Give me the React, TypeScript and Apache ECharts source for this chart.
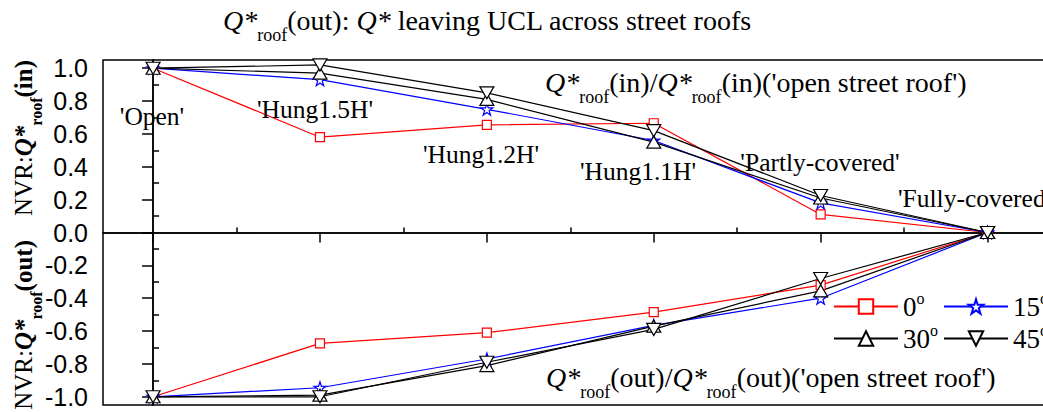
import React, { useEffect, useRef } from 'react';
import * as echarts from 'echarts';

const categories = ['Open', 'Hung1.5H', 'Hung1.2H', 'Hung1.1H', 'Partly-covered', 'Fully-covered'];
const angleNames = ['0°', '15°', '30°', '45°'];

const in0 = [1.0, 0.58, 0.655, 0.665, 0.11, 0.0];
const in15 = [1.0, 0.93, 0.75, 0.56, 0.18, 0.0];
const in30 = [1.0, 0.97, 0.81, 0.55, 0.21, 0.0];
const in45 = [1.0, 1.02, 0.85, 0.62, 0.225, 0.0];

const out0 = [-1.0, -0.675, -0.61, -0.485, -0.32, 0.0];
const out15 = [-1.0, -0.945, -0.77, -0.565, -0.4, 0.0];
const out30 = [-1.0, -0.99, -0.81, -0.57, -0.355, 0.0];
const out45 = [-1.0, -1.0, -0.79, -0.59, -0.28, 0.0];

const yTickValues = [-1.0, -0.8, -0.6, -0.4, -0.2, 0.0, 0.2, 0.4, 0.6, 0.8, 1.0];
const yMinorValues = [-0.9, -0.7, -0.5, -0.3, -0.1, 0.1, 0.3, 0.5, 0.7, 0.9];
const xMajorTicks = [0, 1, 2, 3, 4, 5];
const xMinorTicks = [0.5, 1.5, 2.5, 3.5, 4.5];

const SERIF = "'Liberation Serif','Times New Roman',serif";
const SANS = "'Liberation Sans',Arial,sans-serif";
const STAR = 'path://M50,2 L61,36 L97,36 L68,57 L79,92 L50,71 L21,92 L32,57 L3,36 L39,36 Z';

const markerStyles = [
  { color: '#ff0000', symbol: 'rect', size: 9, rotate: 0 },
  { color: '#0000ff', symbol: STAR, size: 12, rotate: 0 },
  { color: '#000000', symbol: 'triangle', size: [14, 12], rotate: 0 },
  { color: '#000000', symbol: 'triangle', size: [14, 12], rotate: 180 },
];

function subRich(F: number, f: number, d: number, bold: boolean) {
  const p = Math.round(2 * (d + 0.34 * (F - f)));
  const w = bold ? 'bold' : 'normal';
  return {
    n: { fontSize: F, fontFamily: SERIF, lineHeight: F + 2, color: '#000' },
    b: { fontSize: F, fontFamily: SERIF, lineHeight: F + 2, color: '#000', fontWeight: w },
    i: { fontSize: F, fontFamily: SERIF, lineHeight: F + 2, color: '#000', fontStyle: 'italic', fontWeight: w },
    s: { fontSize: f, fontFamily: SERIF, lineHeight: f, color: '#000', fontWeight: w, padding: [p, 0, 0, 0] },
  };
}

function buildOption() {
  const inSets = [in0, in15, in30, in45];
  const outSets = [out0, out15, out30, out45];
  const series: any[] = [];
  [inSets, outSets].forEach((sets) => {
    sets.forEach((vals, k) => {
      const m = markerStyles[k];
      series.push({
        type: 'line',
        name: angleNames[k],
        data: vals.map((v, i) => [i, v]),
        symbol: m.symbol,
        symbolSize: m.size,
        symbolRotate: m.rotate,
        showAllSymbol: true,
        lineStyle: { color: m.color, width: 1.2 },
        itemStyle: { color: '#ffffff', borderColor: m.color, borderWidth: 1.2 },
        z: 3,
      });
    });
  });

  const legendPos = [
    { left: 833, top: 290 },
    { left: 943, top: 290 },
    { left: 833, top: 322 },
    { left: 943, top: 322 },
  ];
  const legends = angleNames.map((nm, k) => ({
    data: [nm],
    left: legendPos[k].left,
    top: legendPos[k].top,
    padding: 0,
    itemWidth: 64,
    itemHeight: 18,
    selectedMode: false,
    formatter: (name: string) => `{n|${name.replace('°', '')}}{o|o}`,
    textStyle: {
      rich: {
        n: { fontSize: 27, fontFamily: SERIF, color: '#000', lineHeight: 29 },
        o: { fontSize: 16, fontFamily: SERIF, color: '#000', lineHeight: 16, padding: [0, 0, 17, 0] },
      },
    },
  }));

  const titleRich = subRich(28, 18, 11, false);
  const yRich = subRich(25, 16, 10, true);
  const annFont = `25.5px ${SERIF}`;

  const catLabels = [
    { x: 152, y: 116, align: 'center' },
    { x: 315, y: 109, align: 'center' },
    { x: 481, y: 154, align: 'center' },
    { x: 638, y: 171, align: 'center' },
    { x: 820, y: 162, align: 'center' },
    { x: 898, y: 198, align: 'left' },
  ];

  const graphics: any[] = [
    {
      type: 'text', x: 223, y: 20, z: 10,
      style: {
        text: '{i|Q*}{s|roof}{n|(out): }{i|Q*}{n| leaving UCL across street roofs}',
        rich: titleRich, textAlign: 'left', textVerticalAlign: 'middle',
      },
    },
    {
      type: 'text', x: 545, y: 82, z: 10,
      style: {
        text: "{i|Q*}{s|roof}{n|(in)/}{i|Q*}{s|roof}{n|(in)('open street roof')}",
        rich: titleRich, textAlign: 'left', textVerticalAlign: 'middle',
      },
    },
    {
      type: 'text', x: 546, y: 377, z: 10,
      style: {
        text: "{i|Q*}{s|roof}{n|(out)/}{i|Q*}{s|roof}{n|(out)('open street roof')}",
        rich: titleRich, textAlign: 'left', textVerticalAlign: 'middle',
      },
    },
    {
      type: 'text', x: 23, y: 60, rotation: Math.PI / 2, z: 10,
      style: {
        text: '{n|NVR:}{i|Q*}{s|roof}{b|(in)}',
        rich: yRich, textAlign: 'right', textVerticalAlign: 'middle',
      },
    },
    {
      type: 'text', x: 23, y: 240, rotation: Math.PI / 2, z: 10,
      style: {
        text: '{n|NVR:}{i|Q*}{s|roof}{b|(out)}',
        rich: yRich, textAlign: 'right', textVerticalAlign: 'middle',
      },
    },
  ];
  categories.forEach((c, i) => {
    graphics.push({
      type: 'text', x: catLabels[i].x, y: catLabels[i].y, z: 10,
      style: {
        text: `'${c}'`, font: annFont, fill: '#000',
        textAlign: catLabels[i].align, textVerticalAlign: 'middle',
      },
    });
  });

  const baseX = {
    type: 'value', min: -0.3, max: 5.5, gridIndex: 0,
    axisLabel: { show: false },
    splitLine: { show: false },
  };
  const baseY = {
    type: 'value', min: -1.05, max: 1.05, gridIndex: 0,
    splitLine: { show: false },
  };

  return {
    animation: false,
    backgroundColor: '#ffffff',
    grid: {
      left: 103, top: 60, width: 968, height: 345,
      outerBoundsMode: 'none',
      containLabel: false,
      show: true, borderColor: '#000', borderWidth: 1.5, backgroundColor: 'transparent',
    },
    xAxis: [
      {
        ...baseX,
        axisLine: { show: true, onZero: true, lineStyle: { color: '#000', width: 1.5 } },
        axisTick: { show: true, customValues: xMajorTicks, length: 10, lineStyle: { color: '#000', width: 1.5 } },
      },
      {
        ...baseX,
        axisLine: { show: true, onZero: true, lineStyle: { color: '#000', width: 1.5 } },
        axisTick: { show: true, customValues: xMinorTicks, length: 5, lineStyle: { color: '#000', width: 1.5 } },
      },
    ],
    yAxis: [
      {
        ...baseY,
        axisLine: { show: true, lineStyle: { color: '#000', width: 1.5 } },
        axisTick: { show: true, customValues: yTickValues, length: 11, lineStyle: { color: '#000', width: 1.5 } },
        axisLabel: {
          show: true, customValues: yTickValues, margin: 15,
          formatter: (v: number) => (Math.abs(v) < 1e-9 ? '0.0' : v.toFixed(1)),
          fontSize: 25, fontFamily: SANS, color: '#000',
        },
      },
      {
        ...baseY,
        axisLine: { show: true, lineStyle: { color: '#000', width: 1.5 } },
        axisTick: { show: true, customValues: yMinorValues, length: 6, lineStyle: { color: '#000', width: 1.5 } },
        axisLabel: { show: false },
      },
    ],
    legend: legends,
    series,
    graphic: { elements: graphics },
  };
}

export default function App() {
  const ref = useRef<HTMLDivElement>(null);
  useEffect(() => {
    document.body.style.margin = '0';
    if (!ref.current) return;
    const chart = echarts.init(ref.current, undefined, { renderer: 'svg' });
    chart.setOption(buildOption() as any);
    return () => chart.dispose();
  }, []);
  return <div ref={ref} style={{ width: 1043, height: 412 }} />;
}
